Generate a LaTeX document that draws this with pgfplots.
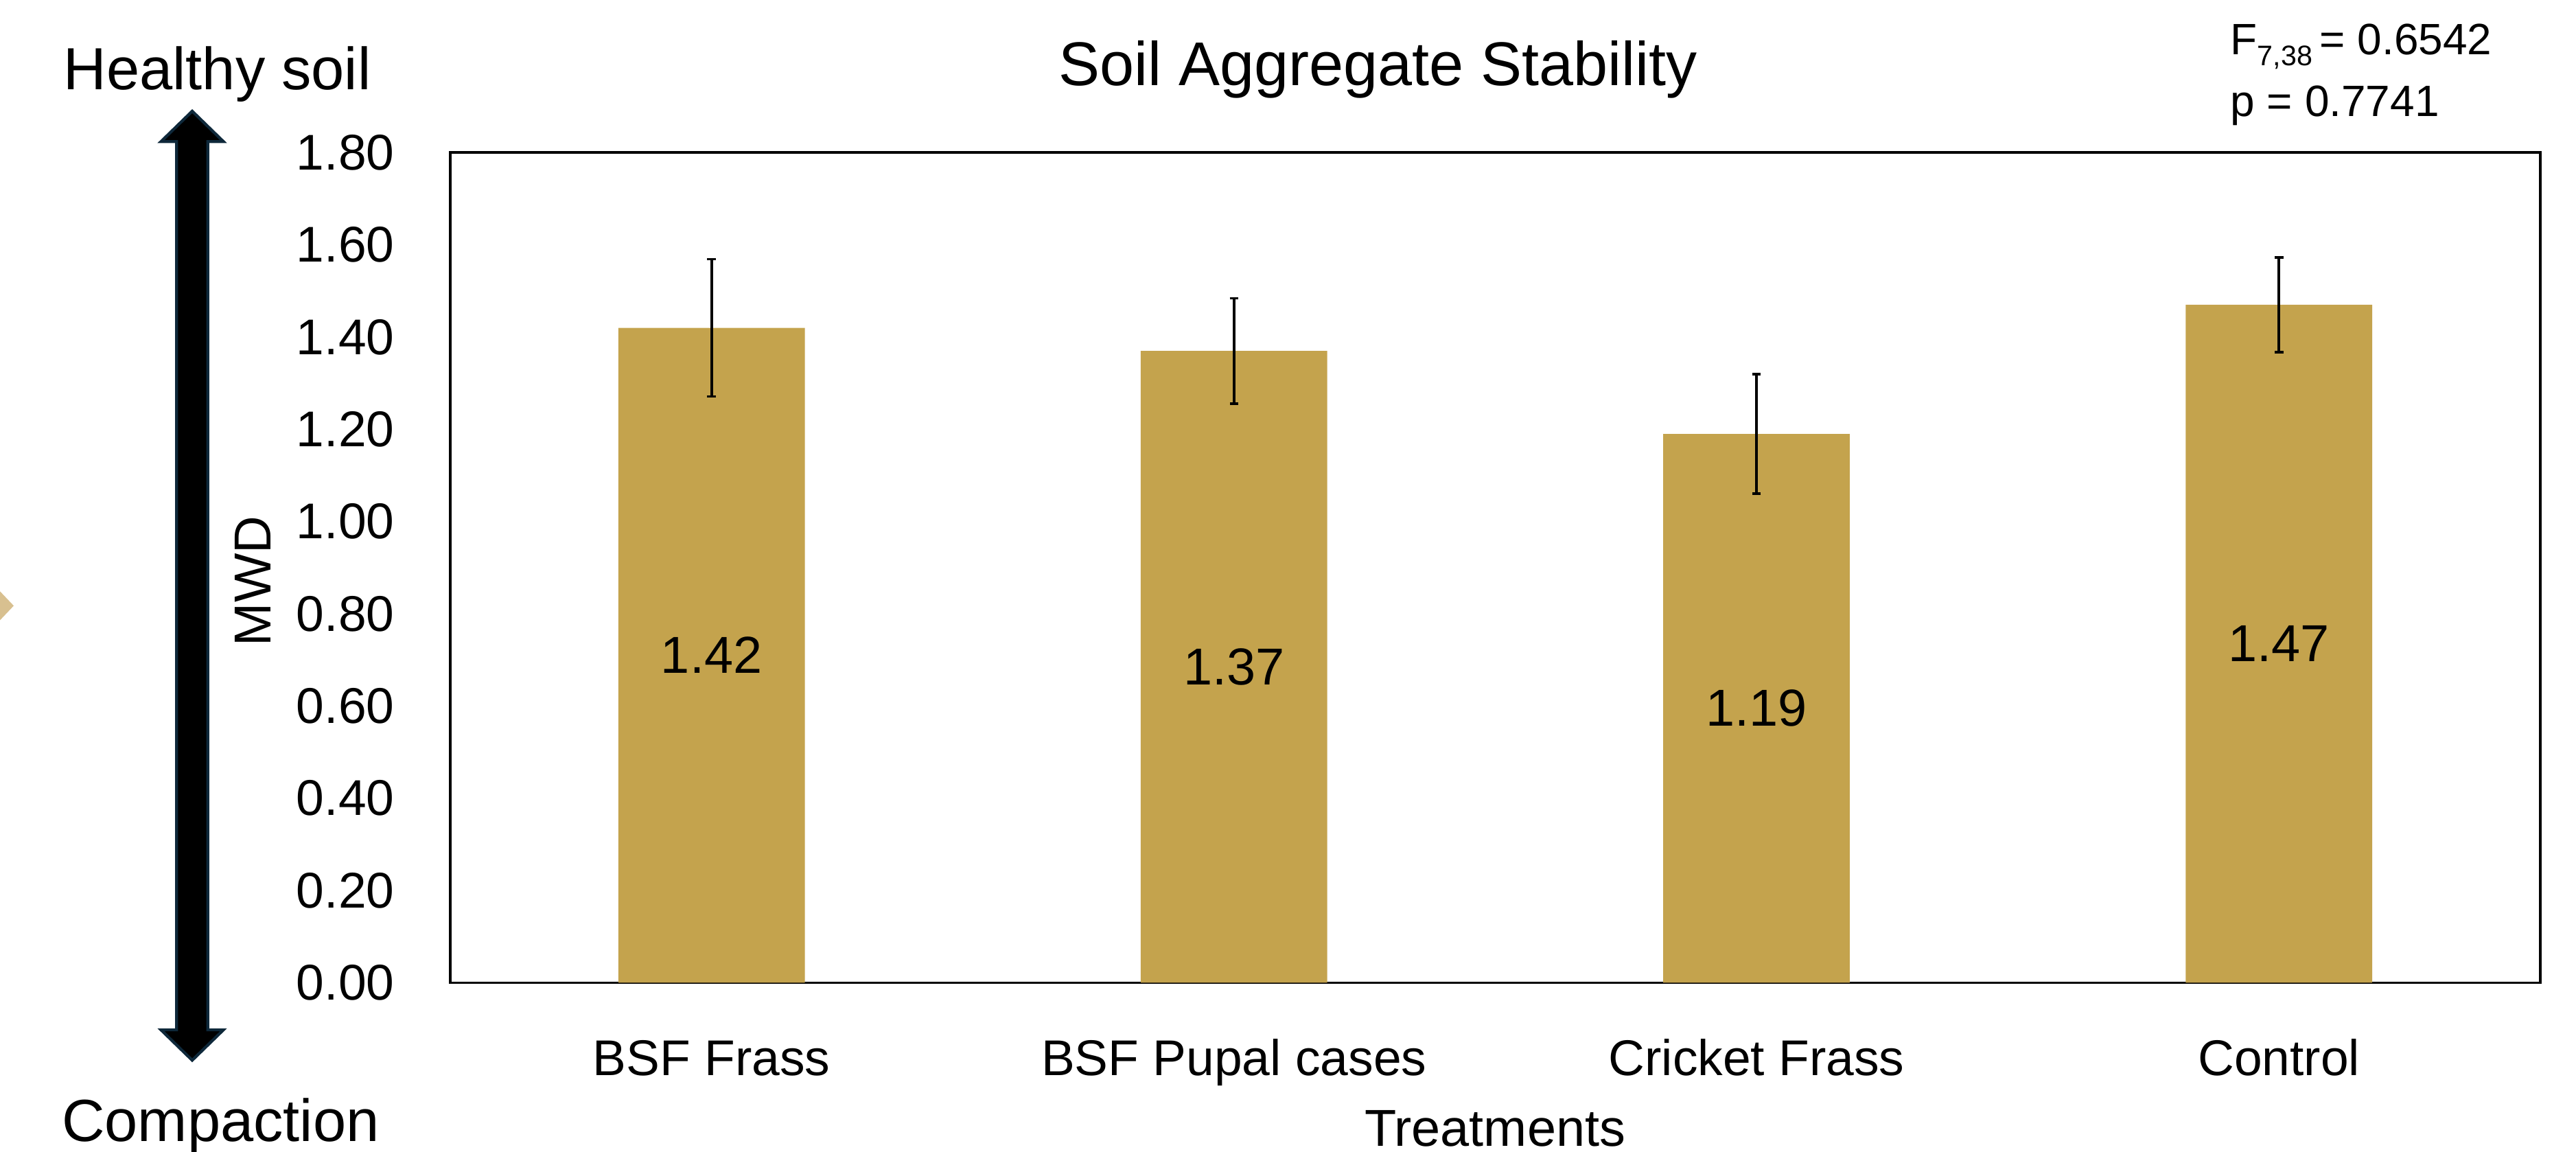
\documentclass[border=0pt]{standalone}
\usepackage{fontspec}
\setmainfont{Liberation Sans}
\usepackage{pgfplots}
\pgfplotsset{compat=1.18}
\usepackage{pgfplotstable}
\definecolor{barc}{RGB}{196,163,77}
\definecolor{arrowedge}{RGB}{14,40,58}
\definecolor{chev}{RGB}{216,192,144}
\pgfplotstableread{
x y err
0 1.42 0.149
1 1.37 0.114
2 1.19 0.130
3 1.47 0.103
}\datatable
\begin{document}
\begin{tikzpicture}[x=1cm,y=1cm]
\begin{axis}[
  at={(2.741cm,1.026cm)}, anchor=south west,
  scale only axis, width=12.721cm, height=5.052cm,
  xmin=-0.5, xmax=3.5, ymin=0, ymax=1.8,
  xtick={0,1,2,3},
  xticklabels={BSF Frass, BSF Pupal cases, Cricket Frass, Control},
  ytick={0,0.2,0.4,0.6,0.8,1.0,1.2,1.4,1.6,1.8},
  yticklabel={\pgfmathprintnumber[fixed,fixed zerofill,precision=2,assume math mode=true]{\tick}},
  major tick length=0pt,
  axis line style={line width=0.45pt, black},
  yticklabel style={font=\fontsize{8.7}{10}\selectfont, inner sep=0pt, anchor=east, xshift=-0.334cm},
  xticklabel style={font=\fontsize{8.7}{10}\selectfont, inner sep=0pt, anchor=base, yshift=-0.566cm},
  clip=false,
]
\addplot[ybar, bar width=0.357, fill=barc, draw=none,
  error bars/.cd, y dir=both, y explicit,
  error bar style={line width=0.45pt, black},
  error mark options={rotate=90, mark size=0.75pt, line width=0.45pt, black}]
  table[x=x, y=y, y error=err]{\datatable};
\addplot[draw=none, mark=none, point meta=explicit,
  nodes near coords={\pgfmathprintnumber[fixed,fixed zerofill,precision=2,assume math mode=true]{\pgfplotspointmeta}},
  every node near coord/.append style={anchor=center, inner sep=0pt, font=\fontsize{9}{10}\selectfont, black}]
  table[x=x, y expr=\thisrow{y}/2, meta=y]{\datatable};
\end{axis}
% decorative chevron at left edge
\fill[chev] (-0.1,3.513) -- (0.0836,3.32) -- (-0.1,3.127) -- cycle;
% double-headed arrow
\draw[fill=black, draw=arrowedge, line width=0.5pt]
  (1.17,6.33) -- (1.36,6.145) -- (1.265,6.145) -- (1.265,0.739) -- (1.36,0.739) -- (1.17,0.554)
  -- (0.98,0.739) -- (1.075,0.739) -- (1.075,6.145) -- (0.98,6.145) -- cycle;
\node[anchor=base, inner sep=0pt, font=\fontsize{10.7}{12}\selectfont] at (8.387,6.488) {Soil Aggregate Stability};
\node[anchor=base west, inner sep=0pt, font=\fontsize{10.3}{12}\selectfont] at (0.38,6.46) {Healthy soil};
\node[anchor=base west, inner sep=0pt, font=\fontsize{10.3}{12}\selectfont] at (0.37,0.06) {Compaction};
\node[anchor=base, inner sep=0pt, font=\fontsize{9}{10}\selectfont] at (9.10,0.03) {Treatments};
\node[rotate=90, inner sep=0pt, font=\fontsize{9}{10}\selectfont] at (1.538,3.47) {MWD};
\node[anchor=base west, inner sep=0pt, font=\fontsize{7.6}{9}\selectfont] at (13.57,6.676) {F\raisebox{-0.07cm}{\fontsize{4.9}{6}\selectfont 7,38}\,= 0.6542};
\node[anchor=base west, inner sep=0pt, font=\fontsize{7.6}{9}\selectfont] at (13.57,6.30) {p = 0.7741};
\pgfresetboundingbox
\useasboundingbox (0,0) rectangle (15.68,7.0065);
\end{tikzpicture}
\end{document}
